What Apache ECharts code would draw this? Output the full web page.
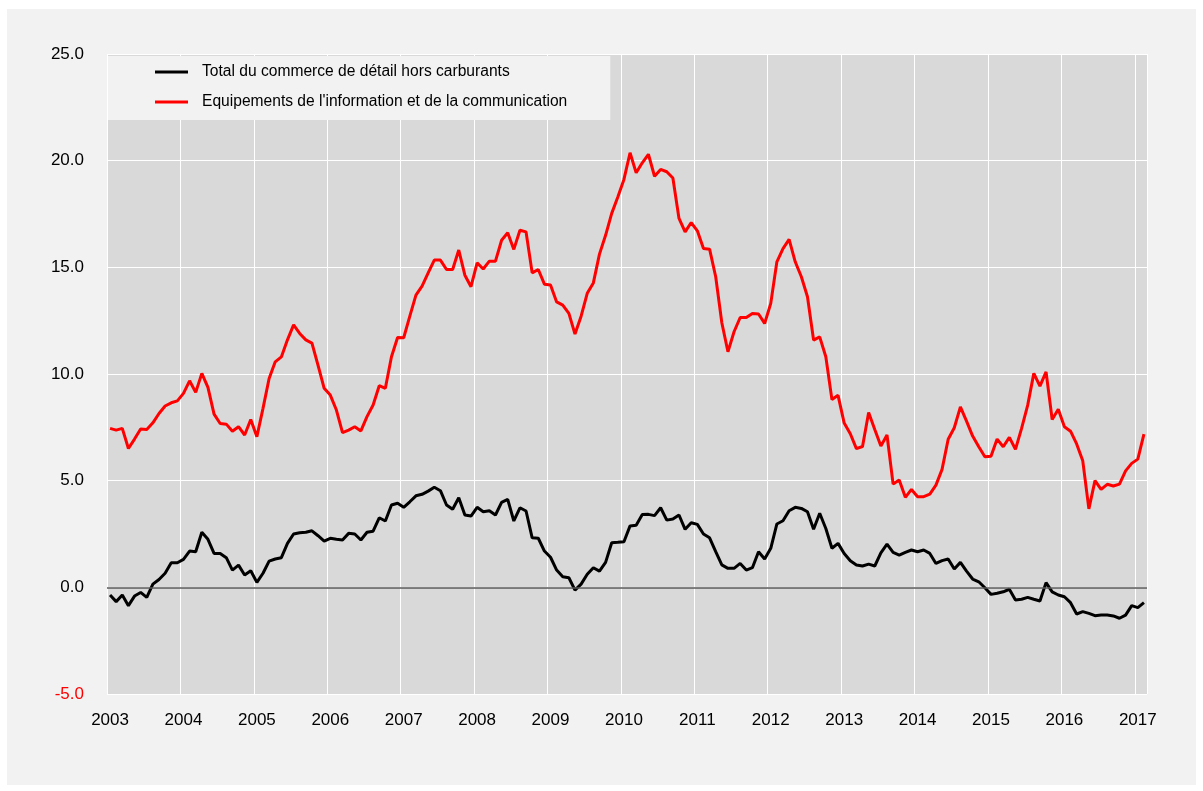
<!DOCTYPE html>
<html>
<head>
<meta charset="utf-8">
<script src="https://cdn.jsdelivr.net/npm/echarts@6/dist/echarts.min.js"></script>
<style>
  html, body { margin: 0; padding: 0; background: #ffffff; }
  #myChart { position: absolute; left: 7px; top: 9px; width: 1189px; height: 776px; background: #f2f2f2; }
</style>
</head>
<body>
<div id="myChart"></div>
<script>
/* Ventes au détail : glissement annuel (%), mensuel janv. 2003 - févr. 2017 */
var years = ['2003', '2004', '2005', '2006', '2007', '2008', '2009', '2010',
    '2011', '2012', '2013', '2014', '2015', '2016', '2017'];
var lastYearMonths = 2;

var nameTotal = 'Total du commerce de détail hors carburants';
var nameTic = "Equipements de l'information et de la communication";

var totalData = [
    -0.36, -0.67, -0.36, -0.86, -0.41, -0.24, -0.47, 0.15, 0.37, 0.66, 1.15, 1.15,
    1.31, 1.70, 1.67, 2.58, 2.25, 1.59, 1.59, 1.39, 0.81, 1.04, 0.58, 0.78,
    0.23, 0.66, 1.23, 1.33, 1.39, 2.06, 2.50, 2.56, 2.58, 2.65, 2.42, 2.17,
    2.30, 2.25, 2.22, 2.53, 2.50, 2.22, 2.58, 2.63, 3.26, 3.11, 3.86, 3.94,
    3.75, 4.01, 4.29, 4.36, 4.51, 4.69, 4.53, 3.86, 3.66, 4.20, 3.39, 3.34,
    3.75, 3.54, 3.59, 3.39, 3.98, 4.12, 3.11, 3.73, 3.58, 2.32, 2.30, 1.70,
    1.41, 0.81, 0.50, 0.45, -0.13, 0.15, 0.61, 0.92, 0.76, 1.17, 2.09, 2.11,
    2.14, 2.88, 2.91, 3.41, 3.42, 3.36, 3.73, 3.15, 3.20, 3.39, 2.72, 3.03,
    2.95, 2.50, 2.32, 1.67, 1.05, 0.89, 0.89, 1.12, 0.81, 0.92, 1.67, 1.33,
    1.83, 2.97, 3.12, 3.59, 3.75, 3.70, 3.54, 2.72, 3.47, 2.76, 1.83, 2.06,
    1.59, 1.25, 1.05, 1.00, 1.09, 1.00, 1.62, 2.03, 1.64, 1.51, 1.64, 1.75,
    1.67, 1.75, 1.59, 1.12, 1.25, 1.33, 0.86, 1.17, 0.76, 0.39, 0.26, -0.02,
    -0.33, -0.28, -0.21, -0.09, -0.59, -0.56, -0.47, -0.56, -0.64, 0.22, -0.21, -0.36,
    -0.44, -0.72, -1.25, -1.14, -1.22, -1.33, -1.30, -1.30, -1.34, -1.45, -1.30, -0.86,
    -0.95, -0.72
];

var ticData = [
    7.45, 7.37, 7.45, 6.51, 6.95, 7.42, 7.40, 7.71, 8.15, 8.50, 8.65, 8.74,
    9.09, 9.68, 9.14, 10.03, 9.37, 8.12, 7.68, 7.65, 7.32, 7.53, 7.14, 7.87,
    7.06, 8.39, 9.79, 10.57, 10.8, 11.6, 12.3, 11.9, 11.6, 11.45, 10.4, 9.33,
    9.01, 8.31, 7.25, 7.37, 7.53, 7.33, 8.0, 8.55, 9.45, 9.33, 10.81, 11.71,
    11.70, 12.71, 13.70, 14.12, 14.74, 15.34, 15.34, 14.90, 14.90, 15.81, 14.63, 14.09,
    15.21, 14.92, 15.29, 15.29, 16.27, 16.62, 15.84, 16.74, 16.66, 14.74, 14.90, 14.21,
    14.17, 13.38, 13.23, 12.84, 11.87, 12.71, 13.78, 14.27, 15.62, 16.5, 17.53, 18.30,
    19.12, 20.37, 19.43, 19.90, 20.30, 19.27, 19.59, 19.48, 19.19, 17.29, 16.66, 17.10,
    16.71, 15.88, 15.85, 14.56, 12.40, 11.04, 11.98, 12.65, 12.65, 12.84, 12.81, 12.37,
    13.31, 15.26, 15.88, 16.31, 15.26, 14.56, 13.62, 11.59, 11.74, 10.81, 8.8, 9.0,
    7.7, 7.2, 6.5, 6.6, 8.20, 7.40, 6.62, 7.14, 4.84, 5.03, 4.22, 4.59,
    4.25, 4.25, 4.37, 4.79, 5.53, 6.94, 7.48, 8.46, 7.79, 7.09, 6.59, 6.12,
    6.15, 6.95, 6.59, 7.03, 6.47, 7.45, 8.54, 10.03, 9.43, 10.10, 7.87, 8.35,
    7.53, 7.32, 6.72, 5.93, 3.68, 5.00, 4.59, 4.83, 4.75, 4.84, 5.46, 5.81,
    6.01, 7.18
];

var yTicks = ['-5.0', '0.0', '5.0', '10.0', '15.0', '20.0', '25.0'];

var myChart;
var fontMain = "'Liberation Sans', Arial, sans-serif";

function buildMonths() {
    var months = [];
    for (var y = 0; y < years.length; y++) {
        var n = (y == years.length - 1) ? lastYearMonths : 12;
        for (var m = 1; m <= n; m++) {
            months.push(years[y] + '-' + (m < 10 ? '0' + m : m));
        }
    }
    return months;
}

function drawChart() {
    var months = buildMonths();
    var option = {
        animation: false,
        backgroundColor: '#f2f2f2',
        legend: {
            orient: 'vertical',
            left: 101,
            top: 47,
            data: [nameTotal, nameTic],
            icon: 'rect',
            itemWidth: 33,
            itemHeight: 3,
            itemGap: 10,
            padding: [6, 43, 8, 47],
            backgroundColor: '#f2f2f2',
            textStyle: {
                fontFamily: fontMain,
                fontSize: 15.6,
                lineHeight: 20,
                color: '#000',
                padding: [0, 0, 0, 9]
            }
        },
        grid: {
            left: 100,
            right: 49,
            top: 45,
            bottom: 91,
            show: true,
            backgroundColor: '#d9d9d9',
            borderWidth: 0
        },
        xAxis: {
            type: 'category',
            boundaryGap: true,
            data: months,
            axisLine: { show: false },
            axisTick: { show: false },
            axisLabel: {
                interval: function (index) { return index % 12 === 0; },
                formatter: function (v) { return v.slice(0, 4); },
                fontFamily: fontMain,
                fontSize: 17,
                color: '#000',
                margin: 18
            },
            splitLine: {
                show: true,
                interval: function (index) { return index % 12 === 0; },
                lineStyle: { color: '#ffffff', width: 1 }
            }
        },
        yAxis: {
            type: 'value',
            min: -5,
            max: 25,
            interval: 5,
            axisLine: { show: false },
            axisTick: { show: false },
            axisLabel: {
                margin: 23,
                fontFamily: fontMain,
                fontSize: 17,
                formatter: function (v) {
                    return yTicks[Math.round((v + 5) / 5)];
                },
                color: function (v) {
                    return v < 0 ? '#ff0000' : '#000';
                }
            },
            splitLine: {
                lineStyle: { color: '#ffffff', width: 1 }
            }
        },
        series: [{
            name: nameTotal,
            type: 'line',
            data: totalData,
            symbol: 'none',
            z: 3,
            itemStyle: { color: '#000000' },
            lineStyle: { color: '#000000', width: 3 },
            markLine: {
                silent: true,
                symbol: 'none',
                label: { show: false },
                lineStyle: { color: '#595959', type: 'solid', width: 1.5 },
                data: [{ yAxis: 0 }]
            }
        }, {
            name: nameTic,
            type: 'line',
            data: ticData,
            symbol: 'none',
            z: 4,
            itemStyle: { color: '#ff0000' },
            lineStyle: { color: '#ff0000', width: 3 }
        }]
    };
    myChart.setOption(option);
}

myChart = echarts.init(document.getElementById('myChart'));
drawChart();
</script>
</body>
</html>
